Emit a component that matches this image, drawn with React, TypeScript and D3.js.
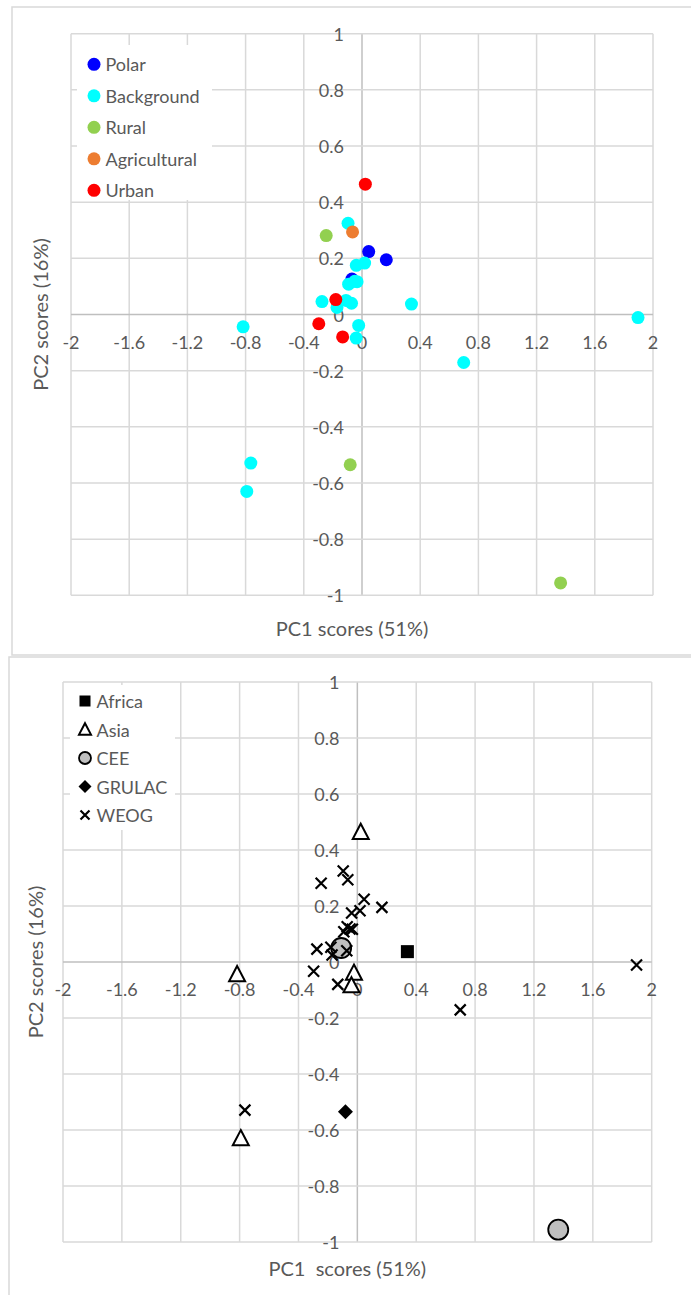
import React from "react";
import * as d3 from "d3";

// ---- data ----
const pc1 = [0.023, -0.096, -0.065, -0.246, 0.046, 0.167, 0.018, -0.039, -0.069, -0.034, -0.092, -0.05, -0.11, -0.072, -0.18, -0.275, -0.172, 0.34, -0.297, -0.023, -0.133, -0.04, 0.699, 1.897, -0.817, -0.764, -0.792, -0.081, 1.365];
const pc2 = [0.464, 0.325, 0.294, 0.281, 0.224, 0.195, 0.183, 0.175, 0.126, 0.117, 0.108, 0.118, 0.05, 0.04, 0.053, 0.046, 0.025, 0.037, -0.033, -0.039, -0.08, -0.084, -0.171, -0.011, -0.044, -0.529, -0.63, -0.535, -0.956];
const siteType = ["Urban", "Background", "Agricultural", "Rural", "Polar", "Polar", "Background", "Background", "Polar", "Background", "Background", "Background", "Background", "Background", "Urban", "Background", "Background", "Background", "Urban", "Background", "Urban", "Background", "Background", "Background", "Background", "Background", "Background", "Rural", "Rural"];
const region = ["Asia", "WEOG", "WEOG", "WEOG", "WEOG", "WEOG", "WEOG", "WEOG", "WEOG", "WEOG", "WEOG", "WEOG", "CEE", "WEOG", "WEOG", "WEOG", "WEOG", "Africa", "WEOG", "Asia", "WEOG", "Asia", "WEOG", "WEOG", "Asia", "WEOG", "Asia", "GRULAC", "CEE"];

const typeSeries = ["Polar", "Background", "Rural", "Agricultural", "Urban"];
const typeColors = ["#0000ff", "#00ffff", "#92d050", "#ed7d31", "#ff0000"];
const regionSeries = ["Africa", "Asia", "CEE", "GRULAC", "WEOG"];

const xTicks = [-2, -1.6, -1.2, -0.8, -0.4, 0, 0.4, 0.8, 1.2, 1.6, 2];
const yTicks = [1, 0.8, 0.6, 0.4, 0.2, 0, -0.2, -0.4, -0.6, -0.8, -1];
const xTitleTop = "PC1 scores (51%)";
const xTitleBottom = "PC1  scores (51%)";
const yTitle = "PC2 scores (16%)";

const FONT = "Lato, 'Open Sans', sans-serif";
const TXT = "#595959";
const GRID = "#d9d9d9";
const AXIS = "#bfbfbf";

const fmt = (v: number) => String(+v.toFixed(1));

function Frame({ fx, fy, plot, xTitle, titleY, yTitleX, children, legend }: any) {
  const x = d3.scaleLinear().domain([-2, 2]).range([plot.left, plot.right]);
  const y = d3.scaleLinear().domain([-1, 1]).range([plot.bottom, plot.top]);
  return (
    <g>
      <rect x={fx} y={fy} width={720} height={plot.frameH} fill="#fff" stroke={GRID} strokeWidth={1.5} />
      {xTicks.map((t) => (
        <line key={"gx" + t} x1={x(t)} x2={x(t)} y1={y(1)} y2={y(-1)} stroke={t === 0 ? AXIS : GRID} strokeWidth={1.5} />
      ))}
      {yTicks.map((t) => (
        <line key={"gy" + t} y1={y(t)} y2={y(t)} x1={x(-2)} x2={x(2)} stroke={t === 0 ? AXIS : GRID} strokeWidth={1.5} />
      ))}
      {legend(x, y)}
      {xTicks.map((t) => (
        <text key={"tx" + t} x={x(t)} y={y(0) + 27} textAnchor="middle" dominantBaseline="central" fontFamily={FONT} fontSize={18} fill={TXT}>{fmt(t)}</text>
      ))}
      {yTicks.map((t) => (
        <text key={"ty" + t} x={x(0) - 18} y={y(t)} textAnchor="end" dominantBaseline="central" fontFamily={FONT} fontSize={18} fill={TXT}>{fmt(t)}</text>
      ))}
      {children(x, y)}
      <text x={(plot.left + plot.right) / 2 - 10} y={titleY} textAnchor="middle" dominantBaseline="central" fontFamily={FONT} fontSize={20} fill={TXT} style={{ whiteSpace: "pre" }}>{xTitle}</text>
      <text transform={`translate(${yTitleX},${(plot.top + plot.bottom) / 2}) rotate(-90)`} textAnchor="middle" dominantBaseline="central" fontFamily={FONT} fontSize={20} fill={TXT}>{yTitle}</text>
    </g>
  );
}

function regionMarker(name: string, cx: number, cy: number, s: number, key?: any) {
  if (name === "Africa") {
    return <rect key={key} x={cx - s / 2} y={cy - s / 2} width={s} height={s} fill="#000" />;
  }
  if (name === "Asia") {
    const h = s * 0.95;
    const p = `M${cx},${cy - h * 0.55} L${cx + s / 2},${cy + h * 0.45} L${cx - s / 2},${cy + h * 0.45} Z`;
    return <path key={key} d={p} fill="#fff" stroke="#000" strokeWidth={2} strokeLinejoin="miter" />;
  }
  if (name === "CEE") {
    return <circle key={key} cx={cx} cy={cy} r={s / 2} fill="#bfbfbf" stroke="#000" strokeWidth={1.8} />;
  }
  if (name === "GRULAC") {
    const r = s / 2;
    const p = `M${cx},${cy - r} L${cx + r},${cy} L${cx},${cy + r} L${cx - r},${cy} Z`;
    return <path key={key} d={p} fill="#000" />;
  }
  const r = s / 2;
  const p = `M${cx - r},${cy - r} L${cx + r},${cy + r} M${cx + r},${cy - r} L${cx - r},${cy + r}`;
  return <path key={key} d={p} fill="none" stroke="#000" strokeWidth={2.2} />;
}

const regionSize: Record<string, number> = { Africa: 13, Asia: 16, CEE: 20, GRULAC: 15, WEOG: 11 };
const regionLegendSize: Record<string, number> = { Africa: 11, Asia: 12, CEE: 12, GRULAC: 13, WEOG: 9 };

export default function App() {
  const idx = d3.range(pc1.length);
  const topPlot = { left: 71, right: 653, top: 33.7, bottom: 595.3, frameH: 648 };
  const botPlot = { left: 63, right: 651.7, top: 682, bottom: 1242, frameH: 660 };
  return (
    <svg width={691} height={1295} style={{ position: "absolute", left: 0, top: 0, background: "#fff" }}>
      <Frame
        fx={12}
        fy={7}
        plot={topPlot}
        xTitle={xTitleTop}
        titleY={628}
        yTitleX={40}
        legend={() => (
          <g>
            <rect x={77} y={45} width={135} height={155} fill="#fff" />
            {typeSeries.map((s, i) => (
              <g key={s}>
                <circle cx={94} cy={64.3 + i * 31.5} r={6.5} fill={typeColors[i]} />
                <text x={105.5} y={64.3 + i * 31.5} dominantBaseline="central" fontFamily={FONT} fontSize={18} fill={TXT}>{s}</text>
              </g>
            ))}
          </g>
        )}
      >
        {(x: any, y: any) =>
          typeSeries.map((s, si) => (
            <g key={s}>
              {idx.filter((i) => siteType[i] === s).map((i) => (
                <circle key={i} cx={x(pc1[i])} cy={y(pc2[i])} r={6.5} fill={typeColors[si]} />
              ))}
            </g>
          ))
        }
      </Frame>
      <Frame
        fx={9}
        fy={657}
        plot={botPlot}
        xTitle={xTitleBottom}
        titleY={1268}
        yTitleX={35}
        legend={() => (
          <g>
            <rect x={70} y={685} width={105} height={145} fill="#fff" />
            {regionSeries.map((s, i) => (
              <g key={s}>
                {regionMarker(s, 85, 701 + i * 28.5, regionLegendSize[s])}
                <text x={96.5} y={701 + i * 28.5} dominantBaseline="central" fontFamily={FONT} fontSize={18} fill={TXT}>{s}</text>
              </g>
            ))}
          </g>
        )}
      >
        {(x: any, y: any) =>
          regionSeries.map((s) => (
            <g key={s}>
              {idx.filter((i) => region[i] === s).map((i) => regionMarker(s, x(pc1[i]), y(pc2[i]), regionSize[s], i))}
            </g>
          ))
        }
      </Frame>
    </svg>
  );
}
